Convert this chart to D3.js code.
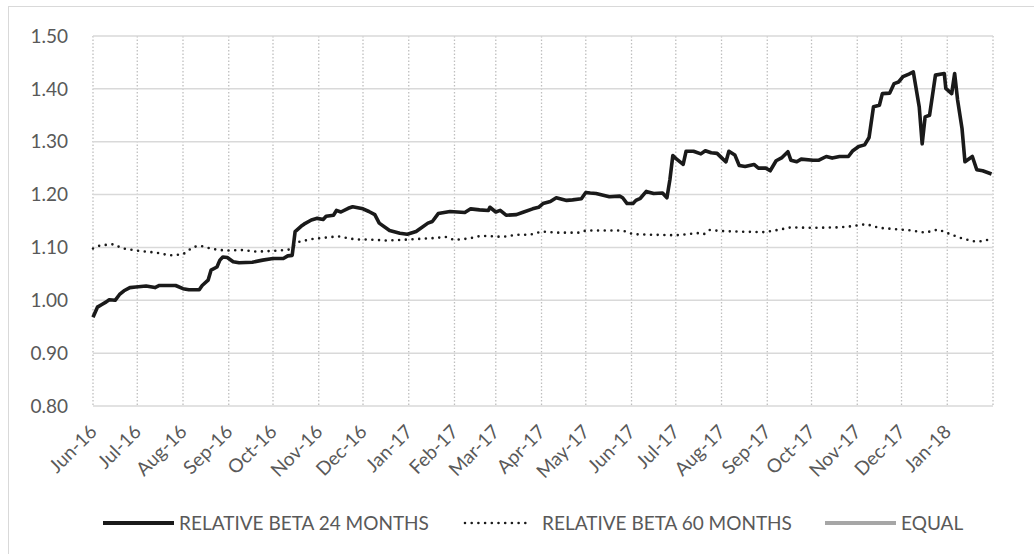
<!DOCTYPE html>
<html>
<head>
<meta charset="utf-8">
<script src="https://cdnjs.cloudflare.com/ajax/libs/d3/7.8.5/d3.min.js"></script>
<style>
  body { margin: 0; background: #fff; }
  svg { display: block; font-family: Lato, "Open Sans", sans-serif; }
  .tick-label { fill: #595959; font-size: 19px; }
</style>
</head>
<body>
<svg width="1034" height="554"></svg>
<script>
// relative beta, 24 month window
var beta24Dates = ["2016-06-01","2016-06-04","2016-06-07","2016-06-10","2016-06-12","2016-06-16","2016-06-19","2016-06-22","2016-06-26","2016-06-30",
  "2016-07-07","2016-07-13","2016-07-16","2016-07-27","2016-08-01","2016-08-05","2016-08-12","2016-08-14","2016-08-18","2016-08-20",
  "2016-08-24","2016-08-26","2016-08-28","2016-08-31","2016-09-04","2016-09-08","2016-09-17","2016-09-24","2016-10-01","2016-10-08",
  "2016-10-11","2016-10-14","2016-10-16","2016-10-20","2016-10-22","2016-10-27","2016-10-31","2016-11-04","2016-11-06","2016-11-11",
  "2016-11-13","2016-11-16","2016-11-21","2016-11-24","2016-12-01","2016-12-05","2016-12-09","2016-12-12","2016-12-19","2016-12-26",
  "2016-12-31","2017-01-06","2017-01-14","2017-01-17","2017-01-21","2017-01-29","2017-02-08","2017-02-12","2017-02-18","2017-02-24",
  "2017-02-25","2017-03-01","2017-03-04","2017-03-08","2017-03-15","2017-03-19","2017-03-26","2017-03-30","2017-04-02","2017-04-07",
  "2017-04-11","2017-04-18","2017-04-22","2017-04-28","2017-05-01","2017-05-04","2017-05-08","2017-05-17","2017-05-24","2017-05-26",
  "2017-05-29","2017-06-02","2017-06-04","2017-06-07","2017-06-11","2017-06-16","2017-06-22","2017-06-25","2017-06-27","2017-06-29",
  "2017-07-02","2017-07-06","2017-07-08","2017-07-13","2017-07-18","2017-07-21","2017-07-25","2017-07-29","2017-08-02","2017-08-04",
  "2017-08-06","2017-08-10","2017-08-13","2017-08-17","2017-08-23","2017-08-26","2017-08-31","2017-09-03","2017-09-07","2017-09-11",
  "2017-09-15","2017-09-17","2017-09-21","2017-09-24","2017-10-02","2017-10-06","2017-10-11","2017-10-15","2017-10-20","2017-10-26",
  "2017-10-29","2017-11-02","2017-11-06","2017-11-09","2017-11-12","2017-11-16","2017-11-18","2017-11-23","2017-11-26","2017-11-29",
  "2017-12-02","2017-12-06","2017-12-09","2017-12-13","2017-12-15","2017-12-17","2017-12-20","2017-12-24","2017-12-30","2017-12-31",
  "2018-01-04","2018-01-06","2018-01-08","2018-01-11","2018-01-13","2018-01-18","2018-01-21","2018-01-25","2018-01-31"];
var beta24Values = [0.968,0.987,0.992,0.997,1.001,1.000,1.011,1.018,1.024,1.025,
  1.027,1.024,1.028,1.028,1.022,1.020,1.020,1.028,1.038,1.057,
  1.063,1.076,1.082,1.081,1.073,1.071,1.072,1.076,1.079,1.079,
  1.084,1.085,1.130,1.140,1.144,1.152,1.155,1.153,1.159,1.161,
  1.170,1.167,1.174,1.177,1.173,1.168,1.162,1.146,1.132,1.127,
  1.125,1.130,1.146,1.149,1.164,1.168,1.166,1.173,1.171,1.170,
  1.176,1.167,1.170,1.161,1.162,1.166,1.173,1.176,1.183,1.187,
  1.194,1.189,1.190,1.192,1.204,1.203,1.202,1.196,1.197,1.194,
  1.183,1.183,1.189,1.193,1.206,1.202,1.203,1.194,1.228,1.274,
  1.266,1.257,1.282,1.282,1.277,1.283,1.279,1.278,1.267,1.262,
  1.282,1.275,1.255,1.253,1.257,1.250,1.250,1.245,1.264,1.270,
  1.281,1.265,1.262,1.267,1.265,1.265,1.272,1.269,1.272,1.272,
  1.283,1.291,1.294,1.308,1.366,1.369,1.391,1.392,1.410,1.413,
  1.423,1.428,1.432,1.366,1.296,1.347,1.350,1.426,1.429,1.401,
  1.391,1.429,1.379,1.325,1.262,1.272,1.247,1.245,1.239];

// relative beta, 60 month window
var beta60Dates = ["2016-06-01","2016-06-06","2016-06-15","2016-06-21","2016-07-01","2016-07-14","2016-07-23","2016-08-01","2016-08-08","2016-08-13",
  "2016-08-21","2016-08-30","2016-09-11","2016-09-20","2016-10-05","2016-10-12","2016-10-19","2016-10-28","2016-11-14","2016-11-26",
  "2016-12-05","2016-12-17","2017-01-01","2017-01-20","2017-01-26","2017-02-01","2017-02-11","2017-02-19","2017-03-06","2017-03-15",
  "2017-03-24","2017-04-01","2017-04-11","2017-04-27","2017-05-01","2017-05-17","2017-05-26","2017-06-02","2017-06-15","2017-07-01",
  "2017-07-16","2017-07-20","2017-07-24","2017-08-01","2017-08-11","2017-08-30","2017-09-08","2017-09-17","2017-10-02","2017-10-20",
  "2017-10-28","2017-11-07","2017-11-16","2017-11-25","2017-12-08","2017-12-17","2017-12-26","2018-01-04","2018-01-11","2018-01-20",
  "2018-01-26","2018-01-30"];
var beta60Values = [1.098,1.104,1.106,1.098,1.094,1.090,1.085,1.087,1.101,1.103,
  1.097,1.094,1.095,1.092,1.094,1.096,1.111,1.116,1.121,1.115,
  1.115,1.113,1.115,1.118,1.120,1.114,1.117,1.122,1.120,1.124,
  1.124,1.130,1.128,1.128,1.132,1.132,1.132,1.125,1.124,1.123,
  1.127,1.125,1.133,1.131,1.130,1.129,1.133,1.138,1.137,1.138,
  1.140,1.144,1.137,1.135,1.132,1.128,1.134,1.124,1.117,1.111,
  1.112,1.116];

var yTicks = [0.80, 0.90, 1.00, 1.10, 1.20, 1.30, 1.40, 1.50];
var legendLabels = ["RELATIVE BETA 24 MONTHS", "RELATIVE BETA 60 MONTHS", "EQUAL"];

var parse = d3.timeParse("%Y-%m-%d");
var s24 = beta24Dates.map(function(d, i) { return {date: parse(d), value: beta24Values[i]}; });
var s60 = beta60Dates.map(function(d, i) { return {date: parse(d), value: beta60Values[i]}; });

var svg = d3.select("svg");

// chart border
svg.append("rect")
    .attr("x", 8.5).attr("y", 6.5)
    .attr("width", 1040).attr("height", 570)
    .attr("fill", "none")
    .attr("stroke", "#d9d9d9")
    .attr("stroke-width", 1);

var start = new Date(2016, 5, 1), end = new Date(2018, 1, 1);
var x = d3.scaleTime().domain([start, end]).range([93, 993]);
var y = d3.scaleLinear().domain([0.8, 1.5]).range([406, 36]);

var months = d3.timeMonth.range(start, d3.timeDay.offset(end, 1));
var fmt = d3.timeFormat("%b-%y");

// vertical dotted grid
svg.append("g").selectAll("line")
  .data(months)
  .enter().append("line")
    .attr("x1", function(d) { return x(d); })
    .attr("x2", function(d) { return x(d); })
    .attr("y1", y(1.5)).attr("y2", y(0.8))
    .attr("stroke", "#bfbfbf")
    .attr("stroke-width", 1.3)
    .attr("stroke-dasharray", "1.5 2");

// horizontal grid
svg.append("g").selectAll("line")
  .data(yTicks)
  .enter().append("line")
    .attr("x1", x(start)).attr("x2", x(end))
    .attr("y1", function(d) { return y(d); })
    .attr("y2", function(d) { return y(d); })
    .attr("stroke", "#d9d9d9")
    .attr("stroke-width", 1.5);

// y labels
svg.append("g").selectAll("text")
  .data(yTicks)
  .enter().append("text")
    .attr("class", "tick-label")
    .attr("x", 68)
    .attr("y", function(d) { return y(d); })
    .attr("dy", "0.35em")
    .attr("text-anchor", "end")
    .text(function(d) { return d3.format(".2f")(d); });

// x labels (last tick at the right edge has no label)
svg.append("g").selectAll("text")
  .data(months.slice(0, months.length - 1))
  .enter().append("text")
    .attr("class", "tick-label")
    .attr("text-anchor", "end")
    .attr("transform", function(d) { return "translate(" + (x(d) + 5) + ",433) rotate(-45)"; })
    .text(function(d) { return fmt(d); });

var line = d3.line()
    .x(function(d) { return x(d.date); })
    .y(function(d) { return y(d.value); });

svg.append("path")
    .datum(s60)
    .attr("d", line)
    .attr("fill", "none")
    .attr("stroke", "#1a1a1a")
    .attr("stroke-width", 2.6)
    .attr("stroke-linecap", "round")
    .attr("stroke-dasharray", "0 6.7");

svg.append("path")
    .datum(s24)
    .attr("d", line)
    .attr("fill", "none")
    .attr("stroke", "#1a1a1a")
    .attr("stroke-width", 3.6)
    .attr("stroke-linejoin", "round");

// legend
var legendY = 523;
var legendItems = [
  {x1: 103, x2: 174, tx: 179, color: "#1a1a1a", width: 4, dash: null, cap: "butt"},
  {x1: 465, x2: 530, tx: 542, color: "#1a1a1a", width: 2.6, dash: "0 6.7", cap: "round"},
  {x1: 825, x2: 896, tx: 901, color: "#a6a6a6", width: 4, dash: null, cap: "butt"}
];
var lg = svg.append("g").selectAll("g")
  .data(legendItems)
  .enter().append("g");

lg.append("line")
    .attr("x1", function(d) { return d.x1; })
    .attr("x2", function(d) { return d.x2; })
    .attr("y1", legendY).attr("y2", legendY)
    .attr("stroke", function(d) { return d.color; })
    .attr("stroke-width", function(d) { return d.width; })
    .attr("stroke-linecap", function(d) { return d.cap; })
    .attr("stroke-dasharray", function(d) { return d.dash; });

lg.append("text")
    .attr("class", "tick-label")
    .attr("x", function(d) { return d.tx; })
    .attr("y", legendY)
    .attr("dy", "0.35em")
    .text(function(d, i) { return legendLabels[i]; });
</script>
</body>
</html>
